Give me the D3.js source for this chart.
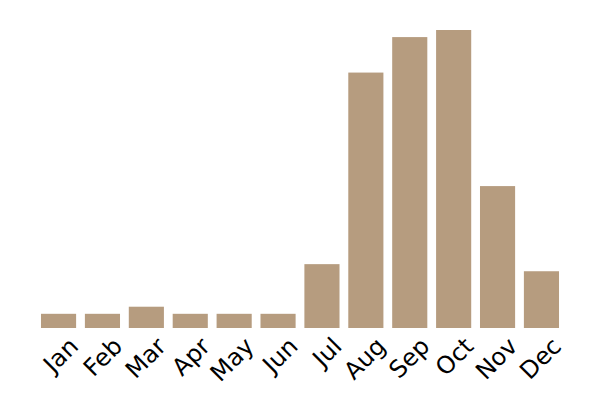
<!DOCTYPE html>
<html><head><meta charset="utf-8">
<script src="https://cdn.jsdelivr.net/npm/d3@7"></script>
<style>body{margin:0;background:#fff;}</style>
</head><body>
<svg id="c" width="600" height="400"></svg>
<script>
const months = ["Jan","Feb","Mar","Apr","May","Jun","Jul","Aug","Sep","Oct","Nov","Dec"];
const values = [2,2,3,2,2,2,9,36,41,42,20,8];
const svg = d3.select("#c");
const x = d3.scaleBand().domain(months).range([36.6,563.4]).paddingInner(0.2).paddingOuter(0.1);
const y = d3.scaleLinear().domain([0,42]).range([328,30]);
svg.selectAll("rect").data(months).join("rect")
  .attr("x", d=>x(d)).attr("width", x.bandwidth())
  .attr("y", (d,i)=>y(values[i])).attr("height", (d,i)=>y(0)-y(values[i]))
  .attr("fill","#b69c7f");
const ax = svg.append("g").attr("transform","translate(0,328)")
  .call(d3.axisBottom(x).tickSize(0).tickPadding(0));
ax.select(".domain").remove();
ax.selectAll("text").attr("font-size",24).attr("font-family","DejaVu Sans, sans-serif").attr("fill","#000")
  .attr("text-anchor","end").attr("transform","rotate(-45)").attr("dx",1).attr("dy",29)
  .attr("y",0);
</script></body></html>
